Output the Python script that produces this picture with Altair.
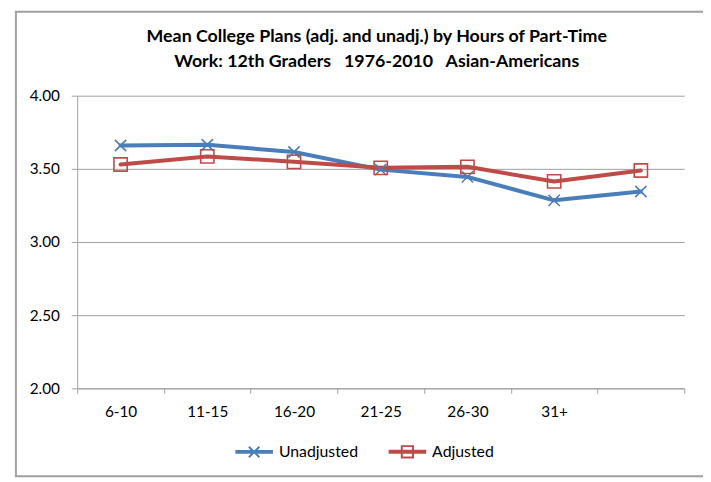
import altair as alt
import pandas as pd

# ---- data ----
categories = ["6-10", "11-15", "16-20", "21-25", "26-30", "31+", " "]
unadjusted = [3.660, 3.665, 3.615, 3.495, 3.445, 3.285, 3.345]
adjusted = [3.530, 3.585, 3.548, 3.507, 3.514, 3.414, 3.489]
series_names = ["Unadjusted", "Adjusted"]
series_colors = ["#4a7ebb", "#be4b48"]
y_ticks = [2.0, 2.5, 3.0, 3.5, 4.0]
title_lines = [
    "Mean College Plans (adj. and unadj.) by Hours of Part-Time",
    "Work: 12th Graders\u00a0\u00a0 1976-2010\u00a0\u00a0 Asian-Americans",
]

rows = []
for name, vals in zip(series_names, [unadjusted, adjusted]):
    for cat, v in zip(categories, vals):
        rows.append({"cat": cat, "series": name, "value": v})
df = pd.DataFrame(rows)

FONT = "Lato"
GRAY = "#a0a0a0"

# marker shapes (normalised to -1..1)
marker_paths = ["M-0.85,-0.85L0.85,0.85M-0.85,0.85L0.85,-0.85", "M-1,-1H1V1H-1Z"]
legend_paths = [
    "M-1,-0.05H1M-1,0.05H1M-0.28,-0.28L0.28,0.28M-0.28,0.28L0.28,-0.28",
    "M-1,-0.05H1M-1,0.05H1M-0.3,-0.3H0.3V0.3H-0.3Z",
]

x_enc = alt.X(
    "cat:N",
    sort=categories,
    bandPosition=0.5,
    scale=alt.Scale(type="band", domain=categories, paddingInner=0, paddingOuter=0),
    axis=alt.Axis(
        title=None, labelAngle=0, tickBand="extent", ticks=True, tickSize=5,
        tickColor=GRAY, domainColor=GRAY, domainWidth=1, grid=False,
        labelFont=FONT, labelFontSize=15.5, labelColor="#000000", labelPadding=11,
    ),
)
y_enc = alt.Y(
    "value:Q",
    scale=alt.Scale(domain=[2, 4], nice=False, zero=False),
    axis=alt.Axis(
        title=None, values=y_ticks, format=".2f", grid=True, gridColor=GRAY,
        gridWidth=1, tickSize=6, tickColor=GRAY, domainColor=GRAY,
        labelFont=FONT, labelFontSize=15.5, labelColor="#000000", labelPadding=12,
    ),
)
color_scale = alt.Scale(domain=series_names, range=series_colors)

base = alt.Chart(df)

lines = base.mark_line(strokeWidth=4, strokeJoin="round", strokeCap="round").encode(
    x=x_enc, y=y_enc,
    color=alt.Color("series:N", scale=color_scale, legend=None),
    detail="series:N",
)

points = base.mark_point(filled=False, strokeWidth=1.6, size=180, opacity=1).encode(
    x=x_enc, y=y_enc,
    color=alt.Color("series:N", scale=color_scale, legend=None),
    shape=alt.Shape("series:N", scale=alt.Scale(domain=series_names, range=marker_paths), legend=None),
)

leg = alt.Legend(
    orient="none", legendX=159, legendY=340, direction="horizontal", title=None,
    symbolSize=1444, symbolStrokeWidth=2, symbolOpacity=1,
    labelFont=FONT, labelFontSize=16, labelColor="#000000", labelOffset=5,
    columnPadding=26, padding=0,
)
legend_layer = base.transform_filter("datum.value < 0").mark_point(filled=False).encode(
    x=x_enc, y=y_enc,
    color=alt.Color("series:N", scale=color_scale, legend=leg),
    shape=alt.Shape("series:N", scale=alt.Scale(domain=series_names, range=legend_paths), legend=leg),
)

frame = alt.Chart(pd.DataFrame({"k": [0]})).mark_rect(
    fill="transparent", stroke=GRAY, strokeWidth=2
).encode(
    x=alt.value(-62), x2=alt.value(700), y=alt.value(-85), y2=alt.value(385)
)

chart = alt.layer(frame, lines, points, legend_layer).resolve_scale(
    color="independent", shape="independent"
).properties(
    width=614, height=296,
    padding={"left": 70, "top": 86, "right": 19, "bottom": 90},
    autosize=alt.AutoSizeParams(type="none"),
    title=alt.TitleParams(
        text=title_lines, font=FONT, fontSize=18, fontWeight="bold",
        anchor="middle", frame="group", offset=-60.5, lineHeight=25,
        color="#000000", dx=-4,
    ),
).configure_view(stroke=None)

chart.save("out.html", embed_options={"renderer": "svg", "actions": False})
